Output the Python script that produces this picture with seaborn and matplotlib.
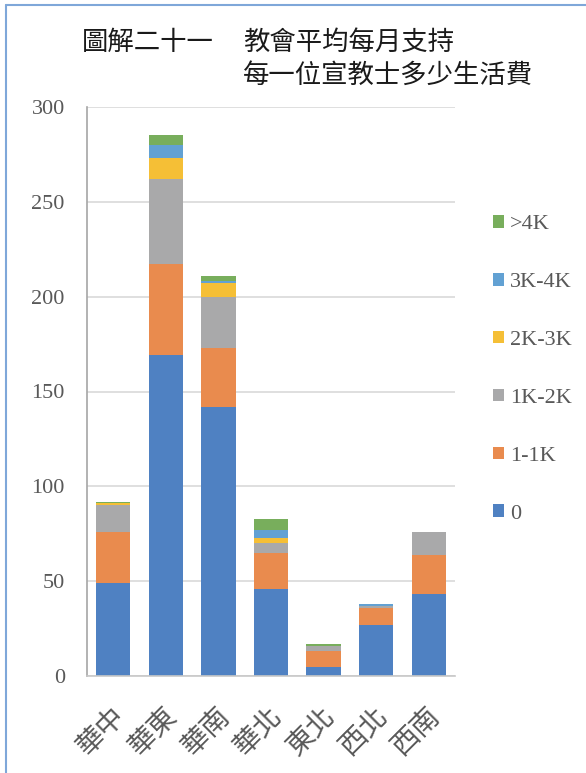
import numpy as np
import pandas as pd
import matplotlib
matplotlib.use("Agg")
import matplotlib.pyplot as plt
import matplotlib.transforms as mtransforms
import seaborn as sns
from matplotlib.patches import Patch
from matplotlib.lines import Line2D

# Churches by region, grouped by monthly support per missionary
regions = ["華中", "華東", "華南", "華北", "東北", "西北", "西南"]
series_names = ["0", "1-1K", "1K-2K", "2K-3K", "3K-4K", ">4K"]
s_0 = [49, 169, 142, 46, 5, 27, 43]
s_1_1k = [27, 48, 31, 19, 8, 9, 21]
s_1k_2k = [14, 45, 27, 5, 3, 1, 12]
s_2k_3k = [1, 11, 7, 3, 0, 0, 0]
s_3k_4k = [0, 7, 1, 4, 0, 1, 0]
s_gt_4k = [1, 5, 3, 6, 1, 0, 0]
y_ticks = [0, 50, 100, 150, 200, 250, 300]

colors = ["#4F81C2", "#E98B4E", "#A9A9AA", "#F5BF36", "#62A1D3", "#78AE5C"]

sns.set_theme(style="white")
plt.rcParams["font.family"] = ["Noto Sans CJK TC", "DejaVu Sans"]

df = pd.DataFrame({"region": regions})
for name, vals in zip(series_names, [s_0, s_1_1k, s_1k_2k, s_2k_3k, s_3k_4k, s_gt_4k]):
    df[name] = vals
# running totals so each layer can be drawn over the taller one behind it
cum = df[series_names].cumsum(axis=1)
for name in series_names:
    df["cum_" + name] = cum[name]

W, H = 586, 773
fig = plt.figure(figsize=(W / 100, H / 100), dpi=100)
ax = fig.add_axes([87 / W, 1 - 676 / H, (455 - 87) / W, (676 - 107) / H])

for name, col in reversed(list(zip(series_names, colors))):
    sns.barplot(data=df, x="region", y="cum_" + name, color=col, saturation=1,
                width=0.65, errorbar=None, ax=ax, linewidth=0)

ax.set_xlim(-0.5, 6.5)
ax.set_ylim(0, 300)
ax.set_yticks(y_ticks)
ax.set_xlabel("")
ax.set_ylabel("")
ax.set_axisbelow(True)
ax.yaxis.grid(True, color="#D9D9D9", linewidth=1.2)
ax.xaxis.grid(False)
for side in ["top", "right"]:
    ax.spines[side].set_visible(False)
ax.spines["left"].set_color("#A6A6A6")
ax.spines["left"].set_linewidth(1.2)
ax.spines["bottom"].set_color("#C8C8C8")
ax.spines["bottom"].set_linewidth(1.2)

ax.tick_params(axis="y", length=0, pad=16)
ax.tick_params(axis="x", length=0, pad=26)
for lab in ax.get_yticklabels():
    lab.set_family("Liberation Serif")
    lab.set_fontsize(16)
    lab.set_color("#595959")
shift = mtransforms.ScaledTranslation(7 / 100, 0, fig.dpi_scale_trans)
for lab in ax.get_xticklabels():
    lab.set_fontsize(20)
    lab.set_color("#595959")
    lab.set_rotation(45)
    lab.set_ha("right")
    lab.set_va("center")
    lab.set_rotation_mode("anchor")
    lab.set_transform(lab.get_transform() + shift)

handles = [Patch(facecolor=c, edgecolor="none") for c in reversed(colors)]
labels = list(reversed(series_names))
fig.legend(handles, labels, loc="upper left",
           bbox_to_anchor=(493 / W, 1 - 215 / H), bbox_transform=fig.transFigure,
           frameon=False, borderpad=0, borderaxespad=0,
           handlelength=0.5, handleheight=0.5, handletextpad=0.25,
           labelspacing=1.74,
           prop={"family": "Liberation Serif", "size": 16},
           labelcolor="#595959")

title_kw = dict(fontsize=19, color="#1A1A1A", va="center", ha="left")
fig.text(82 / W, 1 - 42 / H, "圖解二十一", **title_kw)
fig.text(243 / W, 1 - 42 / H, "教會平均每月支持", **title_kw)
fig.text(243 / W, 1 - 75 / H, "每一位宣教士多少生活費", **title_kw)

# frame edge along the top and left
fig.add_artist(Line2D([6 / W, 6 / W], [0, 1 - 5 / H], transform=fig.transFigure,
                      color="#7FA7D9", linewidth=1.5))
fig.add_artist(Line2D([6 / W, 1], [1 - 5 / H, 1 - 5 / H], transform=fig.transFigure,
                      color="#7FA7D9", linewidth=1.5))

fig.savefig("out.png", dpi=100)
